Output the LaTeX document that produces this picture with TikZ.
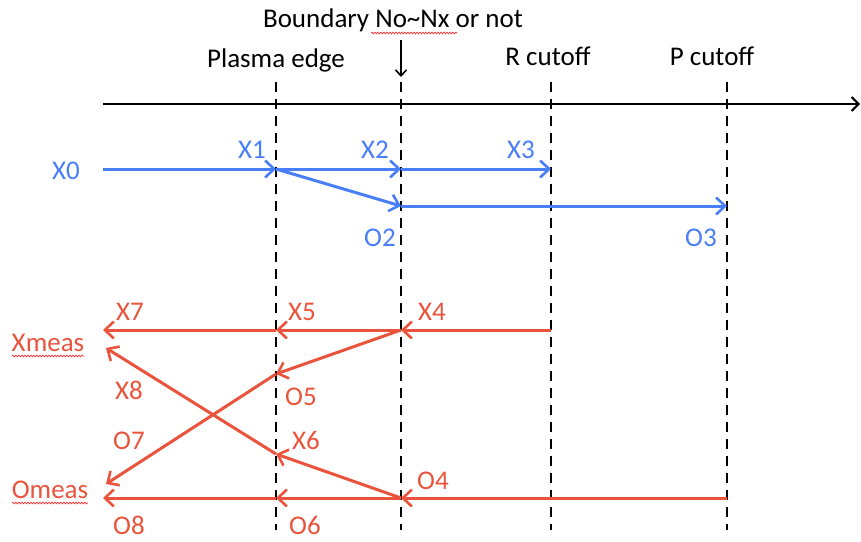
\documentclass[tikz,border=0pt]{standalone}
\usepackage{fontspec}
\setmainfont{Carlito}
\usetikzlibrary{arrows.meta,decorations.pathmorphing}
\definecolor{bl}{RGB}{72,126,247}
\definecolor{rd}{RGB}{234,84,60}
\tikzset{
  lbl/.style={font=\fontsize{27}{29}\selectfont, inner sep=0pt},
  bluelbl/.style={lbl, text=bl},
  redlbl/.style={lbl, text=rd},
  cut/.style={draw=black, line width=2pt, dash pattern=on 10pt off 7pt},
  barrow/.style={draw=bl, line width=3pt, -{Straight Barb[length=9pt,width=17pt,line width=2.6pt]}},
  rarrow/.style={draw=rd, line width=3pt, -{Straight Barb[length=9pt,width=17pt,line width=2.6pt]}},
  wavy/.style={draw=red!80!white, line width=0.7pt, decorate, decoration={snake, amplitude=0.9pt, segment length=3pt}}
}
\begin{document}
\begin{tikzpicture}[x=1pt,y=-1pt]
\useasboundingbox (0,0) rectangle (861,541);
% axis
\coordinate (axL) at (103,104);
\coordinate (axR) at (860,104);
\draw[line width=2.2pt, -{Straight Barb[length=7pt,width=14pt,line width=2pt]}] (axL) -- (axR);
% cutoff lines
\coordinate (c1t) at (276,82); \coordinate (c1b) at (276,530);
\coordinate (c2t) at (401,82); \coordinate (c2b) at (401,530);
\coordinate (c3t) at (551,82); \coordinate (c3b) at (551,530);
\coordinate (c4t) at (727,82); \coordinate (c4b) at (727,530);
\draw[cut] (c1t) -- (c1b);
\draw[cut] (c2t) -- (c2b);
\draw[cut] (c3t) -- (c3b);
\draw[cut] (c4t) -- (c4b);
% top labels
\node[lbl] (bnd) at (393,20) {Boundary No\char`~Nx or not};
\node[lbl] (pe) at (276,60) {Plasma edge};
\node[lbl] (rc) at (548,56) {R cutoff};
\node[lbl] (pc) at (712,56) {P cutoff};
\coordinate (dat) at (401,40);
\coordinate (dab) at (401,77);
\draw[line width=1.8pt, -{Straight Barb[length=6pt,width=11pt,line width=1.6pt]}] (dat) -- (dab);
\coordinate (w1a) at (371,33); \coordinate (w1b) at (457,33);
\draw[wavy] (w1a) -- (w1b);
% blue
\coordinate (b0) at (103,169);
\coordinate (b1) at (276,169);
\coordinate (b2) at (401,169);
\coordinate (b3) at (551,169);
\coordinate (bo2) at (401,206);
\coordinate (bo3) at (727,206);
\draw[barrow] (b0) -- (b1);
\draw[barrow] (b1) -- (b2);
\draw[barrow] (b2) -- (b3);
\draw[barrow] (b1) -- (bo2);
\draw[barrow] (bo2) -- (bo3);
\node[bluelbl] (X0) at (66,171) {X0};
\node[bluelbl] (X1) at (252,150) {X1};
\node[bluelbl] (X2) at (375,150) {X2};
\node[bluelbl] (X3) at (521,150) {X3};
\node[bluelbl] (O2) at (380,238) {O2};
\node[bluelbl] (O3) at (701,238) {O3};
% red
\coordinate (r3) at (551,330);
\coordinate (r4) at (401,330);
\coordinate (r5) at (276,330);
\coordinate (r7) at (103,330);
\coordinate (ro5) at (276,374);
\coordinate (ro7) at (106,484);
\coordinate (rx8) at (106,348);
\coordinate (rx6) at (276,454);
\coordinate (p4) at (727,498);
\coordinate (o4) at (401,498);
\coordinate (o6) at (276,498);
\coordinate (o8) at (103,498);
\draw[rarrow] (r3) -- (r4);
\draw[rarrow] (r4) -- (r5);
\draw[rarrow] (r5) -- (r7);
\draw[rarrow] (r4) -- (ro5);
\draw[rarrow] (ro5) -- (ro7);
\draw[rarrow] (p4) -- (o4);
\draw[rarrow] (o4) -- (o6);
\draw[rarrow] (o6) -- (o8);
\draw[rarrow] (o4) -- (rx6);
\draw[rarrow] (rx6) -- (rx8);
\node[redlbl] (X7) at (130,312) {X7};
\node[redlbl] (X5) at (302,312) {X5};
\node[redlbl] (X4) at (432,312) {X4};
\node[redlbl] (Xm) at (48,343) {Xmeas};
\node[redlbl] (X8) at (129,390) {X8};
\node[redlbl] (O5) at (301,397) {O5};
\node[redlbl] (O7) at (129,441) {O7};
\node[redlbl] (X6) at (306,440) {X6};
\node[redlbl] (O4) at (433,481) {O4};
\node[redlbl] (Om) at (50,490) {Omeas};
\node[redlbl] (O8) at (129,525) {O8};
\node[redlbl] (O6) at (305,525) {O6};
\coordinate (w2a) at (12,356); \coordinate (w2b) at (84,356);
\draw[wavy] (w2a) -- (w2b);
\coordinate (w3a) at (12,503); \coordinate (w3b) at (88,503);
\draw[wavy] (w3a) -- (w3b);
\end{tikzpicture}
\end{document}
